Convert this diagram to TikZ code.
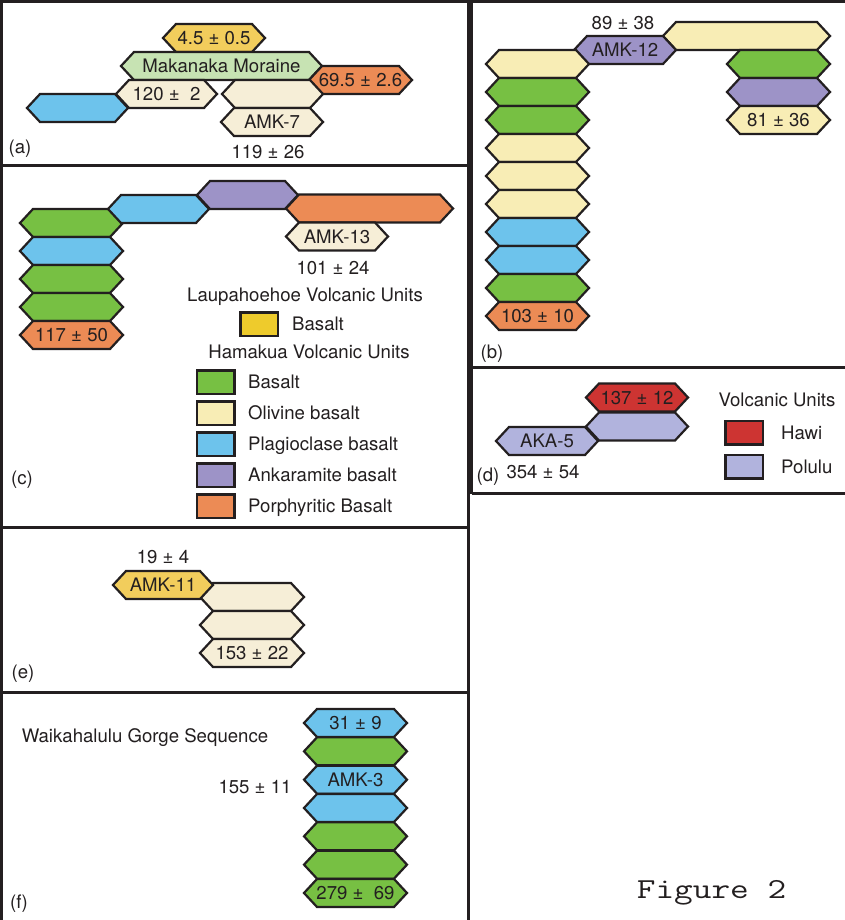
\documentclass[tikz,border=0pt]{standalone}
\usepackage{fontspec}
\setmainfont{TeX Gyre Heros}
\usetikzlibrary{positioning}

\definecolor{ink}{HTML}{231F20}
\definecolor{laupa}{HTML}{F2CD5C}
\definecolor{laupaleg}{HTML}{EECB2C}
\definecolor{moraine}{HTML}{C7E3B3}
\definecolor{porph}{HTML}{EC8B55}
\definecolor{cream}{HTML}{F6EED7}
\definecolor{olivine}{HTML}{F8EDB5}
\definecolor{basalt}{HTML}{77C043}
\definecolor{plag}{HTML}{6DC3EC}
\definecolor{ankar}{HTML}{9D93C7}
\definecolor{hawi}{HTML}{CD3432}
\definecolor{polulu}{HTML}{B1B3DD}

\tikzset{
  unit/.style={draw=ink, line width=2.2pt, line join=miter},
  unitlabel/.style={font=\fontsize{18.6}{20}\selectfont, text=ink, inner sep=0pt, text height=13pt, text depth=0pt},
  legendbox/.style={draw=ink, line width=2.5pt, minimum width=37.5pt, minimum height=23.5pt, inner sep=0pt},
  frame/.style={draw=ink, line width=3pt},
}

% one layer: name, colour, left tip, right tip, centre line, label
\newcommand{\hexunit}[6]{%
  \draw[unit, fill=#2] (#3,#5) -- ++(13,-14) -- ({#4-13},{#5-14}) -- (#4,#5)
    -- ({#4-13},{#5+14}) -- ({#3+13},{#5+14}) -- cycle;
  \node[unitlabel] (#1) at ({(#3+#4)/2},#5) {#6};}

\begin{document}
\begin{tikzpicture}[x=1pt,y=-1pt]
\useasboundingbox (0,0) rectangle (845,920);
\fill[white] (0,0) rectangle (845,920);

% panel frames
\draw[frame] (0,1.5) -- (845,1.5);
\draw[frame] (1.5,0) -- (1.5,920);
\draw[frame] (468.5,0) -- (468.5,920);
\draw[frame, line width=2.5pt] (471.5,0) -- (471.5,493.5);
\foreach \y in {166,527.5,692} {\draw[frame] (0,\y) -- (468.5,\y);}
\foreach \y in {367.5,493.5} {\draw[frame, line width=2.5pt] (471.5,\y) -- (845,\y);}

% (a)
\hexunit{a1}{laupa}{163}{265}{38}{4.5 ± 0.5}
\hexunit{a2}{moraine}{121}{322}{66}{Makanaka Moraine}
\hexunit{a3}{porph}{309}{412}{80}{69.5 ± 2.6}
\hexunit{a4}{cream}{116}{217}{94}{120 ± \ 2}
\hexunit{a5}{plag}{27}{128}{108}{}
\hexunit{a6}{cream}{222}{323}{94}{}
\hexunit{a7}{cream}{221}{323}{122}{AMK-7}
\node[unitlabel] (a-age) at (268,152) {119 ± 26};
\node[unitlabel] (a-tag) at (20,147) {(a)};

% (b)
\hexunit{b0}{olivine}{663}{830}{36}{}
\hexunit{b1}{ankar}{574}{676}{50}{AMK-12}
\foreach \c [count=\i from 0] in {olivine,basalt,basalt,olivine,olivine,olivine,plag,plag,basalt}
  {\hexunit{bl\i}{\c}{486}{589}{64+28*\i}{}}
\hexunit{bl9}{porph}{486}{589}{316}{103 ± 10}
\foreach \c [count=\i from 0] in {basalt,ankar}
  {\hexunit{br\i}{\c}{727}{830}{64+28*\i}{}}
\hexunit{br2}{olivine}{727}{830}{120}{81 ± 36}
\node[unitlabel] (b-age) at (623,23) {89 ± 38};
\node[unitlabel] (b-tag) at (492,352) {(b)};

% (c)
\foreach \c [count=\i from 0] in {basalt,plag,basalt,basalt}
  {\hexunit{cl\i}{\c}{20}{123}{223+28*\i}{}}
\hexunit{cl4}{porph}{20}{123}{335}{117 ± 50}
\hexunit{c1}{plag}{108}{209}{209}{}
\hexunit{c2}{ankar}{197}{298}{195}{}
\hexunit{c3}{porph}{286}{453}{208.5}{}
\hexunit{c4}{cream}{286}{388}{236.5}{AMK-13}
\node[unitlabel] (c-age) at (333,268) {101 ± 24};
\node[unitlabel] (lau-title) at (305,295) {Laupahoehoe Volcanic Units};
\node[legendbox, fill=laupaleg] (lau-basalt) at (259,324) {};
\node[unitlabel, right=13pt of lau-basalt] (lau-basalt-text) {Basalt};
\node[unitlabel] (ham-title) at (309,352) {Hamakua Volcanic Units};
\foreach \c/\t [count=\i] in {basalt/Basalt, olivine/Olivine basalt, plag/Plagioclase basalt, ankar/Ankaramite basalt, porph/Porphyritic Basalt} {
  \node[legendbox, fill=\c] (ham\i) at (215.5,{351+31*\i}) {};
  \node[unitlabel, right=12.5pt of ham\i] (ham\i-text) {\t};
}
\node[unitlabel] (c-tag) at (22,478) {(c)};

% (d)
\hexunit{d1}{hawi}{586}{688}{397.5}{137 ± 12}
\hexunit{d2}{polulu}{586}{688}{426.5}{}
\hexunit{d3}{polulu}{496}{598}{441}{AKA-5}
\node[unitlabel] (d-age) at (543,472) {354 ± 54};
\node[unitlabel] (d-tag) at (488,475) {(d)};
\node[unitlabel] (volc-title) at (777,400) {Volcanic Units};
\node[legendbox, fill=hawi] (hawi-box) at (744,432.5) {};
\node[unitlabel, right=17pt of hawi-box] (hawi-text) {Hawi};
\node[legendbox, fill=polulu] (polulu-box) at (744,466.5) {};
\node[unitlabel, right=17pt of polulu-box] (polulu-text) {Polulu};

% (e)
\foreach \i in {0,1} {\hexunit{ec\i}{cream}{200}{304}{597+28*\i}{}}
\hexunit{ec2}{cream}{200}{304}{653}{153 ± 22}
\hexunit{e1}{laupa}{113}{213}{585}{AMK-11}
\node[unitlabel] (e-age) at (163,557) {19 ± 4};
\node[unitlabel] (e-tag) at (23,672) {(e)};

% (f)
\foreach \c/\t [count=\i from 0] in {plag/31 ± 9, basalt/, plag/AMK-3, plag/, basalt/, basalt/, basalt/279 ± \ 69}
  {\hexunit{f\i}{\c}{304}{407}{723+28.33*\i}{\t}}
\node[unitlabel] (f-title) at (145,736) {Waikahalulu Gorge Sequence};
\node[unitlabel] (f-age) at (255,787) {155 ± 11};
\node[unitlabel] (f-tag) at (19,902) {(f)};

\node[font=\ttfamily\fontsize{29}{31}\selectfont, text=ink, inner sep=0pt, anchor=base] (fig-title) at (711.5,898) {\scalebox{1.25}[1]{Figure 2}};
\end{tikzpicture}
\end{document}
